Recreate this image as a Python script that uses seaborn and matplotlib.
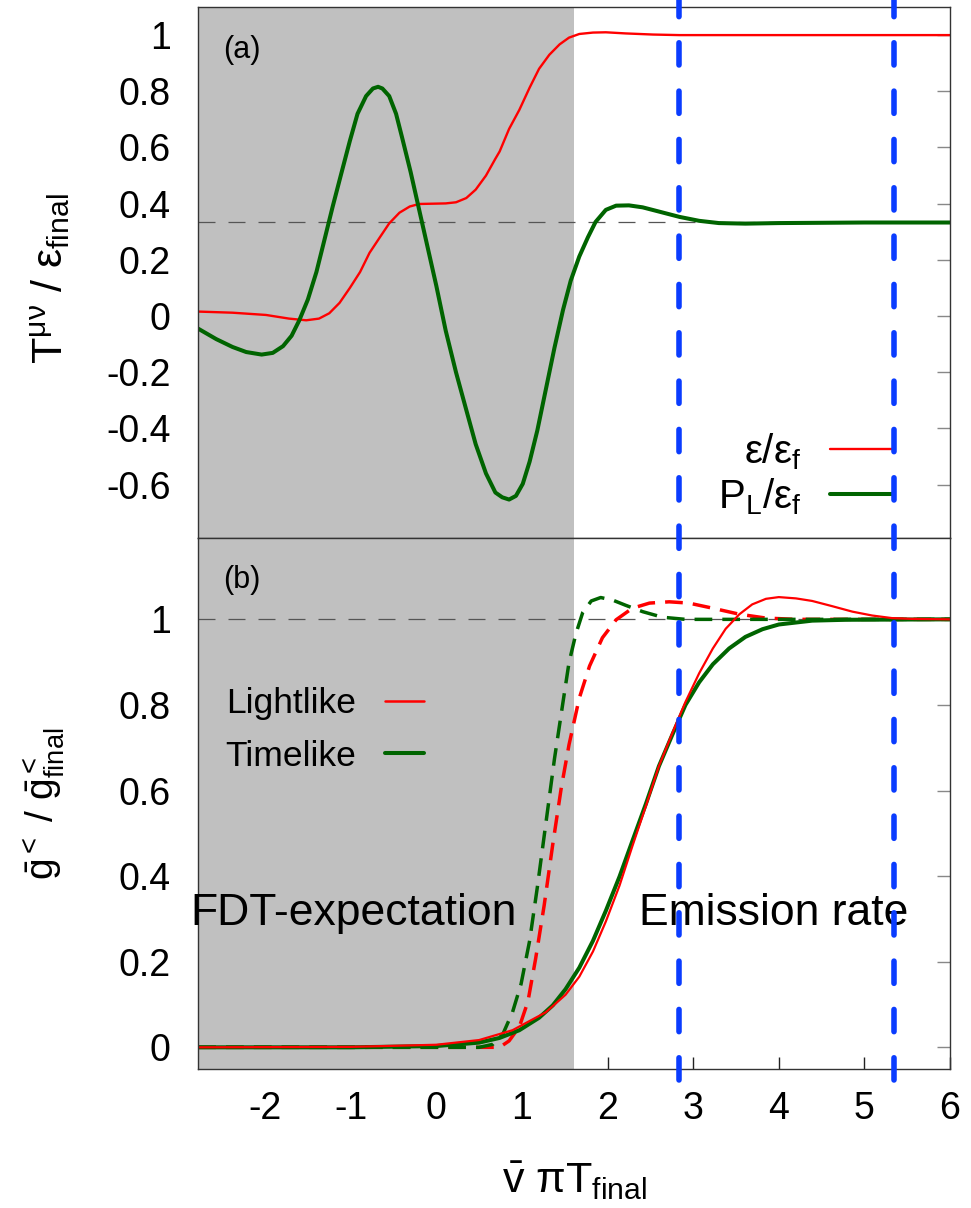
import numpy as np
import pandas as pd
import matplotlib
matplotlib.use("Agg")
import matplotlib.pyplot as plt
import matplotlib.transforms as mtransforms
from matplotlib.lines import Line2D
import seaborn as sns

# ---------------- data ----------------
# panel (a): energy density and longitudinal pressure
x_eps = [-2.78, -2.38, -1.99, -1.72, -1.52, -1.37, -1.25, -1.13, -1.01, -0.89,
         -0.78, -0.66, -0.55, -0.43, -0.31, -0.20, -0.04, 0.11, 0.23, 0.35,
         0.46, 0.58, 0.69, 0.74, 0.85, 0.97, 1.09, 1.20, 1.32, 1.44,
         1.55, 1.67, 1.83, 1.98, 2.21, 2.53, 2.84, 4.0, 6.0]
y_eps = [0.016, 0.012, 0.004, -0.009, -0.015, -0.009, 0.01, 0.047, 0.10, 0.157,
         0.225, 0.28, 0.33, 0.368, 0.39, 0.399, 0.40, 0.401, 0.405, 0.42,
         0.45, 0.50, 0.56, 0.586, 0.666, 0.734, 0.813, 0.88, 0.93, 0.967,
         0.991, 1.004, 1.009, 1.01, 1.006, 1.002, 1.0, 1.0, 1.0]

x_pl = [-2.78, -2.57, -2.38, -2.22, -2.04, -1.91, -1.79, -1.69, -1.60, -1.50,
        -1.40, -1.31, -1.21, -1.11, -1.01, -0.92, -0.82, -0.74, -0.68, -0.63,
        -0.55, -0.47, -0.40, -0.30, -0.20, -0.10, 0.00, 0.11, 0.23, 0.35,
        0.46, 0.58, 0.69, 0.77, 0.85, 0.93, 1.01, 1.09, 1.18, 1.28,
        1.38, 1.48, 1.57, 1.67, 1.77, 1.86, 1.98, 2.10, 2.25, 2.41,
        2.60, 2.84, 3.07, 3.30, 3.61, 4.0, 5.0, 6.0]
y_pl = [-0.045, -0.082, -0.11, -0.128, -0.137, -0.131, -0.107, -0.07, -0.015, 0.059,
        0.157, 0.267, 0.39, 0.507, 0.623, 0.72, 0.783, 0.81, 0.816, 0.81,
        0.783, 0.72, 0.636, 0.513, 0.378, 0.243, 0.108, -0.052, -0.20, -0.334,
        -0.456, -0.56, -0.628, -0.645, -0.653, -0.64, -0.597, -0.518, -0.407, -0.26,
        -0.113, 0.022, 0.126, 0.212, 0.28, 0.335, 0.378, 0.393, 0.394, 0.387,
        0.372, 0.353, 0.339, 0.331, 0.329, 0.331, 0.333, 0.333]

# panel (b): normalised Wightman functions (solid: full, dashed: FDT expectation)
x_light = [-2.78, -1.0, 0.0, 0.50, 0.89, 1.28, 1.51, 1.67, 1.83, 1.98,
           2.14, 2.29, 2.45, 2.60, 2.76, 2.91, 3.07, 3.23, 3.38, 3.54,
           3.69, 3.85, 4.00, 4.20, 4.39, 4.62, 4.86, 5.09, 5.32, 5.56, 6.0]
y_light = [0.0, 0.001, 0.006, 0.017, 0.04, 0.082, 0.123, 0.165, 0.224, 0.294,
           0.378, 0.47, 0.565, 0.657, 0.736, 0.807, 0.874, 0.932, 0.978, 1.012,
           1.035, 1.048, 1.052, 1.049, 1.043, 1.031, 1.018, 1.009, 1.003, 1.001, 1.0]

x_time = [-2.78, -1.0, 0.0, 0.50, 0.74, 0.97, 1.20, 1.36, 1.51, 1.67,
          1.83, 1.98, 2.14, 2.29, 2.45, 2.60, 2.76, 2.91, 3.07, 3.23,
          3.42, 3.61, 3.81, 4.00, 4.39, 4.78, 6.0]
y_time = [0.0, 0.0, 0.003, 0.011, 0.022, 0.04, 0.069, 0.098, 0.136, 0.186,
          0.249, 0.319, 0.399, 0.482, 0.57, 0.657, 0.732, 0.80, 0.853, 0.895,
          0.932, 0.959, 0.977, 0.988, 0.997, 0.999, 1.0]

x_light_fdt = [-2.78, 0.0, 0.50, 0.74, 0.85, 0.97, 1.07, 1.16, 1.26, 1.36,
               1.46, 1.55, 1.67, 1.79, 1.94, 2.10, 2.29, 2.49, 2.72, 2.95,
               3.23, 3.54, 3.85, 4.20, 6.0]
y_light_fdt = [0.0, 0.0, 0.0, 0.0, 0.015, 0.048, 0.107, 0.207, 0.332, 0.474,
               0.607, 0.707, 0.816, 0.891, 0.957, 0.999, 1.026, 1.038, 1.041, 1.038,
               1.026, 1.012, 1.003, 1.0, 1.0]

x_time_fdt = [-2.78, 0.0, 0.50, 0.66, 0.78, 0.89, 0.99, 1.09, 1.18, 1.28,
              1.38, 1.48, 1.55, 1.63, 1.71, 1.81, 1.92, 2.06, 2.21, 2.41,
              2.64, 2.91, 6.0]
y_time_fdt = [0.0, 0.0, 0.0, 0.007, 0.032, 0.082, 0.148, 0.249, 0.374, 0.524,
              0.674, 0.807, 0.899, 0.966, 1.016, 1.043, 1.051, 1.045, 1.033, 1.018,
              1.005, 1.0, 1.0]

shade_end = 1.61              # end of the grey (FDT) region
vlines_x = [2.83, 5.35]       # emission-rate window
ref_top = 1.0 / 3.0
ref_bottom = 1.0

xticks = [-2, -1, 0, 1, 2, 3, 4, 5, 6]
xtick_labels = ["-2", "-1", "0", "1", "2", "3", "4", "5", "6"]
top_yticks = [-0.6, -0.4, -0.2, 0, 0.2, 0.4, 0.6, 0.8, 1]
top_ylabels = ["-0.6", "-0.4", "-0.2", "0", "0.2", "0.4", "0.6", "0.8", "1"]
bot_yticks = [0, 0.2, 0.4, 0.6, 0.8, 1]
bot_ylabels = ["0", "0.2", "0.4", "0.6", "0.8", "1"]

# ---------------- style ----------------
sns.set_theme(style="white")
plt.rcParams['font.family'] = ['Liberation Sans', 'DejaVu Sans']
plt.rcParams['mathtext.fontset'] = 'custom'
plt.rcParams['mathtext.rm'] = 'Liberation Sans'
plt.rcParams['mathtext.it'] = 'Liberation Sans:italic'
plt.rcParams['mathtext.bf'] = 'Liberation Sans:bold'
plt.rcParams['mathtext.sf'] = 'Liberation Sans'
plt.rcParams['axes.unicode_minus'] = False
plt.rcParams['axes.edgecolor'] = '#333333'
plt.rcParams['axes.linewidth'] = 1.0
plt.rcParams['text.color'] = 'black'
plt.rcParams['axes.labelcolor'] = 'black'
plt.rcParams['xtick.color'] = 'black'
plt.rcParams['ytick.color'] = 'black'
plt.rcParams['xtick.labelcolor'] = 'black'
plt.rcParams['ytick.labelcolor'] = 'black'

RED = '#ff0000'
GREEN = '#006400'
BLUE = '#0a3cff'
SHADE = '#c0c0c0'

fig = plt.figure(figsize=(9.71, 12.08), dpi=100)
ax1 = fig.add_axes([0.2042, 0.5546, 0.7742, 0.4396])
ax2 = fig.add_axes([0.2042, 0.1153, 0.7742, 0.4393])

XLIM = (-2.78, 6.0)


def curve(ax, x, y, color, lw, dashes=None):
    sns.lineplot(x=x, y=y, ax=ax, color=color, linewidth=lw,
                 estimator=None, sort=False, legend=False)
    ln = ax.lines[-1]
    ln.set_zorder(3)
    ln.set_solid_joinstyle('round')
    if dashes is not None:
        ln.set_dashes(dashes)
    return ln


# ---------------- panel (a) ----------------
ax1.axvspan(XLIM[0], shade_end, color=SHADE, lw=0, zorder=1)
ax1.axhline(ref_top, color='#555555', lw=0.9, dashes=(13.6, 10.4), zorder=1.5)
curve(ax1, x_eps, y_eps, RED, 1.7)
curve(ax1, x_pl, y_pl, GREEN, 2.9)
ax1.set_xlim(*XLIM)
ax1.set_ylim(-0.79, 1.10)
ax1.set_xticks(xticks)
ax1.set_yticks(top_yticks)
ax1.set_yticklabels(top_ylabels)
ax1.tick_params(axis='x', bottom=False, top=False, labelbottom=False)
ax1.tick_params(axis='y', left=False, right=True, direction='in', length=9.5,
                width=1, color='#888888', labelcolor='black', labelsize=27, pad=20)
ax1.set_xlabel('')
ax1.set_ylabel(r'$\mathrm{T^{μν}\ /\ ε_{final}}$', fontsize=31, color='black')
ax1.yaxis.set_label_coords(-0.168, 0.488)
ax1.text(0.033, 0.904, '(a)', transform=ax1.transAxes, fontsize=22,
         ha='left', va='baseline', color='black')
h_top = [Line2D([], [], color=RED, lw=1.7), Line2D([], [], color=GREEN, lw=2.9)]
leg1 = ax1.legend(h_top, [r'$\mathrm{ε/ε_{f}}$', r'$\mathrm{P_{L}/ε_{f}}$'],
                  loc='center right', bbox_to_anchor=(0.923, 0.1205), frameon=False,
                  markerfirst=False, fontsize=29, handlelength=1.55, handletextpad=0.7,
                  labelspacing=0.1, borderpad=0, borderaxespad=0)
for t in leg1.get_texts():
    t.set_color('black')

# ---------------- panel (b) ----------------
ax2.axvspan(XLIM[0], shade_end, color=SHADE, lw=0, zorder=1)
ax2.axhline(ref_bottom, color='#555555', lw=0.9, dashes=(13.6, 10.4), zorder=1.5)
curve(ax2, x_light_fdt, y_light_fdt, RED, 2.5, dashes=(5.1, 2.9))
curve(ax2, x_time_fdt, y_time_fdt, GREEN, 2.5, dashes=(5.1, 2.9))
curve(ax2, x_time, y_time, GREEN, 2.9)
curve(ax2, x_light, y_light, RED, 1.6)
ax2.set_xlim(*XLIM)
ax2.set_ylim(-0.05, 1.19)
ax2.set_xticks(xticks)
ax2.set_xticklabels(xtick_labels)
ax2.set_yticks(bot_yticks)
ax2.set_yticklabels(bot_ylabels)
ax2.tick_params(axis='x', bottom=True, top=False, direction='in', length=8.5,
                width=1, color='#222222', labelcolor='black', labelsize=27, pad=16)
ax2.tick_params(axis='y', left=False, right=True, direction='in', length=9.5,
                width=1, color='#888888', labelcolor='black', labelsize=27, pad=20)
ax2.set_ylabel(r'$\mathrm{\bar{g}^{<}\ /\ \bar{g}^{<}_{final}}$', fontsize=28,
               color='black')
ax2.yaxis.set_label_coords(-0.174, 0.50)
ax2.set_xlabel(r'$\mathrm{\bar{v}\ πT_{final}}$', fontsize=31, color='black')
ax2.xaxis.set_label_coords(0.5, -0.172)
ax2.text(0.033, 0.906, '(b)', transform=ax2.transAxes, fontsize=22,
         ha='left', va='baseline', color='black')
ax2.text(0.2065, 0.2715, 'FDT-expectation', transform=ax2.transAxes,
         fontsize=32, ha='center', va='baseline', zorder=5, color='black')
ax2.text(0.766, 0.2715, 'Emission rate', transform=ax2.transAxes,
         fontsize=32, ha='center', va='baseline', zorder=5, color='black')
h_bot = [Line2D([], [], color=RED, lw=1.8), Line2D([], [], color=GREEN, lw=2.9)]
leg2 = ax2.legend(h_bot, ['Lightlike', 'Timelike'], loc='center left',
                  bbox_to_anchor=(0.0355, 0.638), frameon=False, markerfirst=False,
                  fontsize=25.5, handlelength=1.1, handletextpad=0.82,
                  labelspacing=0.55, borderpad=0, borderaxespad=0)
for t in leg2.get_texts():
    t.set_color('black')

for ax in (ax1, ax2):
    for sp in ax.spines.values():
        sp.set_visible(True)
        sp.set_color('#333333')
        sp.set_linewidth(1.0)
        sp.set_zorder(4)

# emission-rate window: vertical dashed lines spanning both panels
blend = mtransforms.blended_transform_factory(ax2.transData, fig.transFigure)
for xv in vlines_x:
    ln, = ax2.plot([xv, xv], [1 - 1080 / 1208, 1.0], transform=blend,
                   clip_on=False, color=BLUE, lw=4.0, zorder=10,
                   solid_capstyle='round')
    ln.set_dashes((4.0, 4.7))
    ln.set_dash_capstyle('round')

fig.savefig('out.png', dpi=100)
